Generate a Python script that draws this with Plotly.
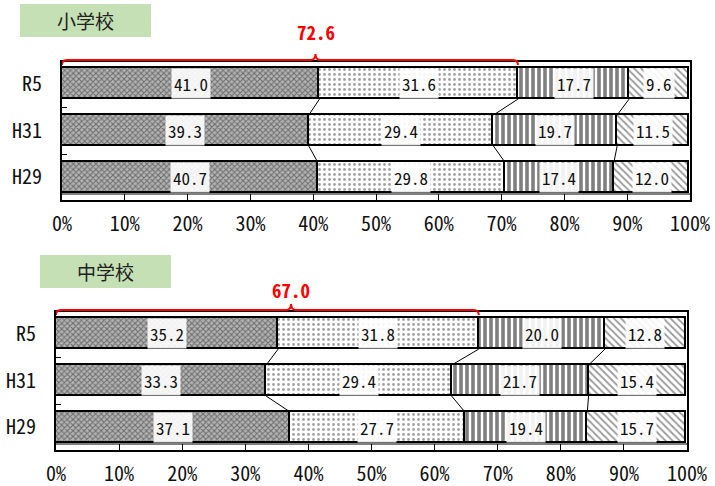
import plotly.graph_objects as go

years = ["H29", "H31", "R5"]
x_ticks = [0, 10, 20, 30, 40, 50, 60, 70, 80, 90, 100]
x_tick_labels = [f"{v}%" for v in x_ticks]
panel_titles = ["小学校", "中学校"]

# values per series, ordered H29, H31, R5
elem_s1 = [40.7, 39.3, 41.0]
elem_s2 = [29.8, 29.4, 31.6]
elem_s3 = [17.4, 19.7, 17.7]
elem_s4 = [12.0, 11.5, 9.6]

jun_s1 = [37.1, 33.3, 35.2]
jun_s2 = [27.7, 29.4, 31.8]
jun_s3 = [19.4, 21.7, 20.0]
jun_s4 = [15.7, 15.4, 12.8]

panels = [[elem_s1, elem_s2, elem_s3, elem_s4], [jun_s1, jun_s2, jun_s3, jun_s4]]

FONT = "Noto Sans Mono CJK JP, Noto Sans CJK JP, monospace"
BAR_W = 0.66
patterns = [
    dict(shape="x", fgcolor="#222222", bgcolor="#b4b4b4", size=4, solidity=0.45),
    dict(shape=".", fgcolor="#444444", bgcolor="#ffffff", size=5, solidity=0.25),
    dict(shape="|", fgcolor="#000000", bgcolor="#ffffff", size=6, solidity=0.6),
    dict(shape="\\", fgcolor="#333333", bgcolor="#ffffff", size=5, solidity=0.35),
]

W, H = 715, 486
# pixel layout of each panel: (left, right, top, bottom, text offset above)
geo = [(62, 690, 62, 200, 30), (56, 687, 312, 450, 23)]
title_boxes = [(20, 151, 4, 37), (40, 171, 255, 288)]

fig = go.Figure()
shapes = []
annotations = []
ypos = [0, 1, 2]

for p, series in enumerate(panels):
    xa = "x" if p == 0 else "x2"
    ya = "y" if p == 0 else "y2"
    cum = [0.0, 0.0, 0.0]
    cums = []
    for k, vals in enumerate(series):
        pat = patterns[k]
        fig.add_trace(go.Bar(
            x=vals, y=ypos, orientation="h", width=BAR_W, xaxis=xa, yaxis=ya,
            marker=dict(color=pat["bgcolor"], pattern=pat,
                        line=dict(color="black", width=1.8)),
            showlegend=False, hoverinfo="x"))
        for i, v in enumerate(vals):
            annotations.append(dict(
                x=cum[i] + v / 2, y=ypos[i], xref=xa, yref=ya, text=f"{v:.1f}",
                xanchor="center", yanchor="middle",
                showarrow=False, bgcolor="rgba(255,255,255,0.9)", borderpad=2,
                font=dict(family=FONT, size=17, color="#111111")))
        cum = [c + v for c, v in zip(cum, series[k])]
        cums.append(list(cum))
    # series lines between bars
    for k in range(3):
        c = cums[k]
        fig.add_trace(go.Scatter(
            x=[c[2], c[1], None, c[1], c[0]],
            y=[2 - BAR_W / 2, 1 + BAR_W / 2, None, 1 - BAR_W / 2, 0 + BAR_W / 2],
            xaxis=xa, yaxis=ya, mode="lines", line=dict(color="black", width=1),
            showlegend=False, hoverinfo="skip"))
    # red bracket over R5 first two series
    total = series[0][2] + series[1][2]
    peak = total * 0.556
    l, r, t, b, toff = geo[p]
    ph = b - t
    yl = 1 + 2 / ph
    ye = 1 - 3 / ph
    yp = 1 + 8 / ph
    d = 0.8
    path = (f"M 0,{ye} Q 0,{yl} {d},{yl} L {peak - d},{yl} Q {peak},{yl} {peak},{yp} "
            f"Q {peak},{yl} {peak + d},{yl} L {total - d},{yl} Q {total},{yl} {total},{ye}")
    shapes.append(dict(type="path", path=path, xref=xa, yref=ya + " domain",
                       line=dict(color="red", width=2)))
    annotations.append(dict(x=peak, y=1 + toff / ph, xref=xa, yref=ya + " domain",
                            text=f"{total:.1f}", showarrow=False,
                            xanchor="center", yanchor="middle",
                            font=dict(family=FONT, size=19, color="red", weight="bold")))
    # thin line above the bottom frame
    shapes.append(dict(type="line", xref=xa + " domain", yref=ya + " domain",
                       x0=0, x1=1, y0=6 / ph, y1=6 / ph,
                       line=dict(color="black", width=1)))
    # title box
    bx0, bx1, by0, by1 = title_boxes[p]
    shapes.append(dict(type="rect", xref="paper", yref="paper",
                       x0=bx0 / W, x1=bx1 / W, y0=1 - by1 / H, y1=1 - by0 / H,
                       fillcolor="#c5e0b4", line=dict(width=0), layer="below"))
    annotations.append(dict(x=(bx0 + bx1) / 2 / W, y=1 - (by0 + by1) / 2 / H,
                            xref="paper", yref="paper", text=panel_titles[p],
                            xanchor="center", yanchor="middle",
                            showarrow=False,
                            font=dict(family="Noto Sans CJK JP", size=19, color="#222")))

def xaxis(p):
    l, r, t, b, _ = geo[p]
    return dict(domain=[l / W, r / W], range=[0, 100], tickvals=x_ticks,
                ticktext=x_tick_labels, ticks="inside", ticklen=6, tickcolor="black",
                tickwidth=1, showline=True, linecolor="black", linewidth=2,
                mirror=True, showgrid=False, zeroline=False, fixedrange=True,
                automargin=False,
                anchor="y" if p == 0 else "y2", ticklabelstandoff=5,
                tickfont=dict(family=FONT, size=20, color="#111"))

def yaxis(p):
    l, r, t, b, _ = geo[p]
    return dict(domain=[1 - b / H, 1 - t / H], range=[-0.48, 2.46],
                tickvals=ypos, ticktext=years, ticks="",
                minor=dict(tickvals=[0.5, 1.5], ticks="inside", ticklen=5,
                           tickcolor="black", tickwidth=1),
                showline=True, linecolor="black", linewidth=2, mirror=True,
                showgrid=False, zeroline=False, fixedrange=True, automargin=False,
                anchor="x" if p == 0 else "x2", ticklabelstandoff=14,
                tickfont=dict(family=FONT, size=20, color="#111"))

fig.update_layout(
    width=W, height=H, margin=dict(l=0, r=0, t=0, b=0, autoexpand=False),
    paper_bgcolor="white", plot_bgcolor="white", barmode="stack", bargap=0,
    xaxis=xaxis(0), yaxis=yaxis(0), xaxis2=xaxis(1), yaxis2=yaxis(1),
    shapes=shapes, annotations=annotations,
)

fig.write_html("out.html", config={"displayModeBar": False},
               post_script="document.body.style.margin='0';document.body.style.overflow='hidden';")
